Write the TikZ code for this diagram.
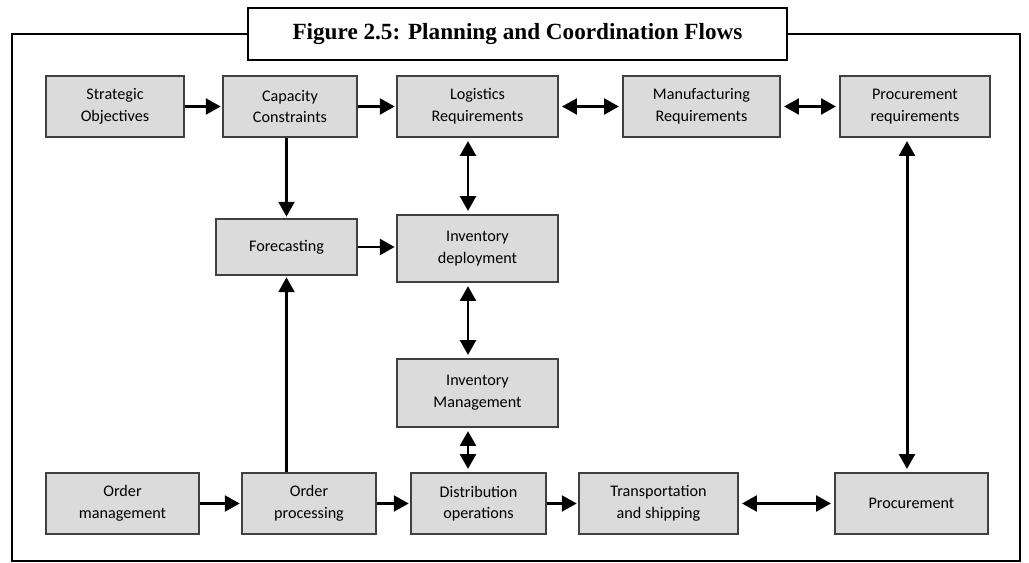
\documentclass[tikz,border=0pt]{standalone}
\usepackage{fontspec}
\setmainfont{Carlito}
\newfontfamily\titlefont{Liberation Serif}
\usetikzlibrary{arrows.meta}

\begin{document}
\begin{tikzpicture}[x=0.02cm,y=-0.02cm,
    box/.style={draw=black!75,line width=0.6pt,fill=black!14,align=center,
        inner sep=0pt,minimum height=1.22cm,
        font=\fontsize{9.2}{12.3}\selectfont},
    arr/.style={line width=1.7pt,-{Triangle[length=8.5pt,width=9pt]},shorten >=1pt},
    biarr/.style={line width=1.7pt,{Triangle[length=8.5pt,width=9pt]}-{Triangle[length=8.5pt,width=9pt]},
        shorten >=2pt,shorten <=2pt}]
        \useasboundingbox (0,0) rectangle (1029,563);

        \node[draw,line width=1.3pt,fill=white,minimum width=10.78cm,minimum height=1.04cm,
            font=\titlefont\bfseries\fontsize{13.2}{15}\selectfont] (title) at (517.5,34)
            {Figure 2.5: Planning and Coordination Flows};
        \draw[line width=1.3pt] (title.west) -| (12,561) -| (1020,34) -- (title.east);

        \node[box,minimum width=2.76cm] (strat) at (115,106.5) {Strategic\\Objectives};
        \node[box,minimum width=2.68cm] (cap) at (290,106.5) {Capacity\\Constraints};
        \node[box,minimum width=3.22cm] (log) at (477.5,106.5) {Logistics\\Requirements};
        \node[box,minimum width=3.14cm] (manu) at (701.5,106.5) {Manufacturing\\Requirements};
        \node[box,minimum width=3.0cm] (procreq) at (915,106.5) {Procurement\\requirements};

        \node[box,minimum width=2.82cm,minimum height=1.12cm] (fore) at (286.5,247) {Forecasting};
        \node[box,minimum width=3.22cm,minimum height=1.34cm] (invdep) at (477.5,248.5) {Inventory\\deployment};
        \node[box,minimum width=3.22cm,minimum height=1.36cm] (invman) at (477.5,393) {Inventory\\Management};

        \node[box,minimum width=3.06cm] (ordman) at (122.5,503.5) {Order\\management};
        \node[box,minimum width=2.68cm] (ordproc) at (309,503.5) {Order\\processing};
        \node[box,minimum width=2.70cm] (dist) at (478.5,503.5) {Distribution\\operations};
        \node[box,minimum width=3.18cm] (trans) at (658.5,503.5) {Transportation\\and shipping};
        \node[box,minimum width=3.06cm] (proc) at (911.5,503.5) {Procurement};

        \draw[arr] (strat) -- (cap);
        \draw[arr] (cap) -- (log);
        \draw[biarr] (log) -- (manu);
        \draw[biarr] (manu) -- (procreq);
        \draw[arr] (cap.south -| fore.north) -- (fore.north);
        \draw[arr] (fore.east) -- (invdep.west |- fore.east);
        \draw[biarr] ([xshift=-0.19cm]log.south) -- ([xshift=-0.19cm]invdep.north);
        \draw[biarr] ([xshift=-0.19cm]invdep.south) -- ([xshift=-0.19cm]invman.north);
        \draw[biarr] ([xshift=-0.19cm]invman.south) -- ([xshift=-0.19cm]invman.south |- dist.north);
        \draw[biarr] ([xshift=-0.16cm]procreq.south) -- ([xshift=-0.16cm]procreq.south |- proc.north);

        \draw[arr] (ordman) -- (ordproc);
        \draw[arr] (ordproc) -- (dist);
        \draw[arr] (ordproc.north -| fore.south) -- (fore.south);
        \draw[arr] (dist) -- (trans);
        \draw[biarr] (trans) -- (proc);
    \end{tikzpicture}
\end{document}
